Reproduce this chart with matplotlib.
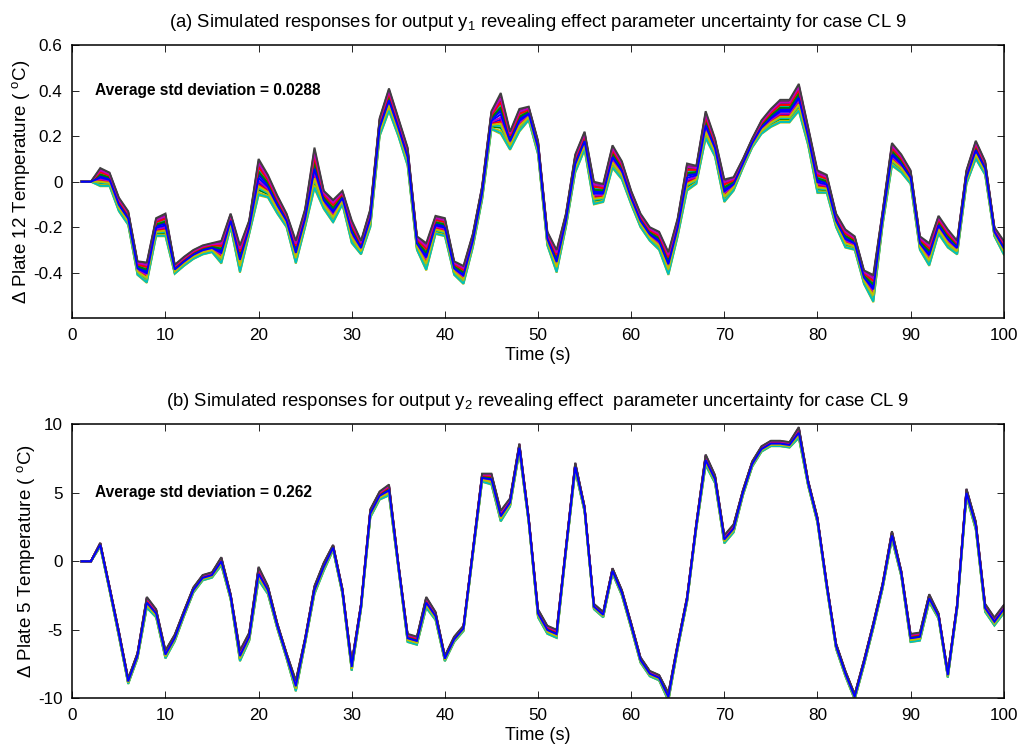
import numpy as np
import matplotlib
matplotlib.use("Agg")
import matplotlib.pyplot as plt

plt.rcParams['font.family'] = ['Liberation Sans', 'DejaVu Sans']
plt.rcParams['mathtext.fontset'] = 'custom'
plt.rcParams['mathtext.rm'] = 'Liberation Sans'
plt.rcParams['mathtext.it'] = 'Liberation Sans'

# ---------------- data ----------------
time_s = list(range(1, 101))

# (a) output y1: nominal response and half-spread of the runs
y1_mean = [0.00, 0.00, 0.02, 0.01, -0.10, -0.16, -0.38, -0.40, -0.20, -0.19,
           -0.385, -0.35, -0.32, -0.30, -0.29, -0.31, -0.17, -0.34, -0.20, 0.02,
           -0.02, -0.10, -0.17, -0.31, -0.16, 0.06, -0.08, -0.13, -0.07, -0.22,
           -0.29, -0.16, 0.24, 0.36, 0.24, 0.11, -0.27, -0.33, -0.19, -0.20,
           -0.38, -0.41, -0.26, -0.05, 0.27, 0.30, 0.18, 0.27, 0.30, 0.15,
           -0.25, -0.35, -0.17, 0.08, 0.18, -0.05, -0.05, 0.11, 0.05, -0.07,
           -0.17, -0.23, -0.26, -0.36, -0.20, 0.02, 0.03, 0.25, 0.15, -0.04,
           -0.01, 0.08, 0.17, 0.24, 0.28, 0.31, 0.31, 0.37, 0.20, 0.00,
           -0.01, -0.17, -0.25, -0.27, -0.42, -0.47, -0.16, 0.12, 0.08, 0.02,
           -0.27, -0.32, -0.19, -0.25, -0.29, 0.02, 0.14, 0.06, -0.22, -0.29]
y1_spread = [0.0, 0.0, 0.04, 0.03, 0.03, 0.03, 0.03, 0.045, 0.04, 0.05,
             0.02, 0.02, 0.02, 0.02, 0.02, 0.05, 0.03, 0.06, 0.03, 0.08,
             0.05, 0.04, 0.03, 0.05, 0.04, 0.09, 0.04, 0.05, 0.03, 0.05,
             0.03, 0.04, 0.04, 0.05, 0.04, 0.04, 0.03, 0.06, 0.04, 0.04,
             0.03, 0.04, 0.03, 0.03, 0.04, 0.09, 0.04, 0.05, 0.03, 0.03,
             0.03, 0.05, 0.03, 0.04, 0.04, 0.05, 0.04, 0.05, 0.04, 0.03,
             0.03, 0.03, 0.04, 0.05, 0.04, 0.06, 0.04, 0.06, 0.04, 0.05,
             0.03, 0.02, 0.02, 0.03, 0.04, 0.05, 0.05, 0.06, 0.04, 0.05,
             0.04, 0.03, 0.04, 0.03, 0.03, 0.06, 0.03, 0.05, 0.04, 0.03,
             0.03, 0.05, 0.04, 0.04, 0.03, 0.03, 0.04, 0.03, 0.02, 0.03]

# (b) output y2: nominal response and half-spread of the runs
y2_mean = [0.0, 0.0, 1.2, -2.0, -5.3, -8.76, -6.9, -3.0, -3.8, -6.8,
           -5.6, -3.8, -2.1, -1.2, -1.0, 0.0, -2.6, -6.9, -5.5, -0.9,
           -2.1, -4.7, -6.9, -9.1, -5.8, -2.1, -0.4, 1.0, -2.2, -7.7,
           -3.3, 3.5, 4.8, 5.2, -0.3, -5.6, -5.8, -3.0, -4.0, -7.1,
           -5.7, -4.9, 0.6, 6.1, 6.0, 3.3, 4.3, 8.3, 3.0, -3.8,
           -5.0, -5.3, 0.85, 6.9, 3.8, -3.3, -3.9, -0.7, -2.3, -4.7,
           -7.2, -8.2, -8.5, -9.9, -6.2, -2.8, 2.6, 7.4, 6.0, 1.6,
           2.4, 5.0, 7.1, 8.2, 8.6, 8.6, 8.5, 9.4, 5.7, 3.0,
           -1.8, -6.2, -8.2, -9.9, -7.4, -4.7, -1.8, 1.9, -0.9, -5.6,
           -5.5, -2.7, -4.0, -8.3, -3.3, 5.0, 2.6, -3.4, -4.4, -3.5]
y2_spread = [0.0, 0.0, 0.15, 0.15, 0.2, 0.2, 0.2, 0.4, 0.3, 0.3,
             0.25, 0.2, 0.2, 0.2, 0.2, 0.3, 0.2, 0.4, 0.3, 0.5,
             0.3, 0.2, 0.2, 0.4, 0.2, 0.3, 0.3, 0.2, 0.2, 0.3,
             0.2, 0.3, 0.3, 0.4, 0.2, 0.3, 0.3, 0.4, 0.3, 0.2,
             0.2, 0.2, 0.2, 0.3, 0.4, 0.4, 0.3, 0.3, 0.2, 0.3,
             0.3, 0.3, 0.2, 0.3, 0.2, 0.2, 0.2, 0.2, 0.2, 0.2,
             0.2, 0.2, 0.2, 0.3, 0.2, 0.2, 0.2, 0.4, 0.3, 0.3,
             0.3, 0.2, 0.2, 0.2, 0.2, 0.2, 0.2, 0.4, 0.2, 0.2,
             0.2, 0.2, 0.2, 0.2, 0.2, 0.2, 0.2, 0.3, 0.2, 0.3,
             0.3, 0.3, 0.2, 0.2, 0.2, 0.3, 0.3, 0.3, 0.3, 0.3]

# relative position of each simulated run inside the spread band
run_weights = [0.2, -0.7, 0.5, -0.6, 0.9, -0.85, 0.7,
               -0.3, 0.6, -0.4, 0.4, -0.2, -1.0, 0.8,
               0.1, 0.3, 0.55, -0.95, 0.75, -0.5, 1.0, -0.05]
run_colors = ['#0000ff', '#008000', '#ff0000', '#00bfbf', '#bf00bf',
              '#bfbf00', '#404040']

titles = [r"(a) Simulated responses for output y$_{1}$ revealing effect parameter uncertainty for case CL 9",
          r"(b) Simulated responses for output y$_{2}$ revealing effect  parameter uncertainty for case CL 9"]
ylabels = [r"$\Delta$ Plate 12 Temperature ( $^{\rm o}$C)",
           r"$\Delta$ Plate 5 Temperature ( $^{\rm o}$C)"]
notes = ["Average std deviation = 0.0288", "Average std deviation = 0.262"]
yticks_list = [[-0.4, -0.2, 0, 0.2, 0.4, 0.6], [-10, -5, 0, 5, 10]]
ytick_labels = [["-0.4", "-0.2", "0", "0.2", "0.4", "0.6"], ["-10", "-5", "0", "5", "10"]]
ylims = [(-0.6, 0.6), (-10, 10)]
note_y = [0.4, 5.0]
xticks = list(range(0, 101, 10))

# ---------------- figure ----------------
fig = plt.figure(figsize=(10.24, 7.51), dpi=100)
positions = [[0.0706, 0.5763, 0.9096, 0.3635], [0.0706, 0.0702, 0.9096, 0.3648]]

t = np.array(time_s)
for k, (means, spreads) in enumerate([(y1_mean, y1_spread), (y2_mean, y2_spread)]):
    ax = fig.add_axes(positions[k])
    m = np.array(means)
    s = np.array(spreads)
    for i, w in enumerate(run_weights):
        ax.plot(t, m + w * s, color=run_colors[i % len(run_colors)], lw=1.4,
                solid_joinstyle='miter')
    ax.set_xlim(0, 100)
    ax.set_ylim(*ylims[k])
    ax.set_xticks(xticks)
    ax.set_yticks(yticks_list[k])
    ax.set_yticklabels(ytick_labels[k])
    ax.tick_params(direction='in', length=5, width=0.6, top=True, right=True,
                   labelsize=12.3, pad=7)
    for sp in ax.spines.values():
        sp.set_linewidth(1.1)
    ax.set_title(titles[k], fontsize=13.3, pad=13)
    ax.set_xlabel("Time (s)", fontsize=13, labelpad=3)
    ax.set_ylabel(ylabels[k], fontsize=13.5, labelpad=1)
    ax.text(2.4, note_y[k], notes[k], fontsize=11.2, fontweight='bold', va='center')

fig.savefig("out.png", dpi=100)
